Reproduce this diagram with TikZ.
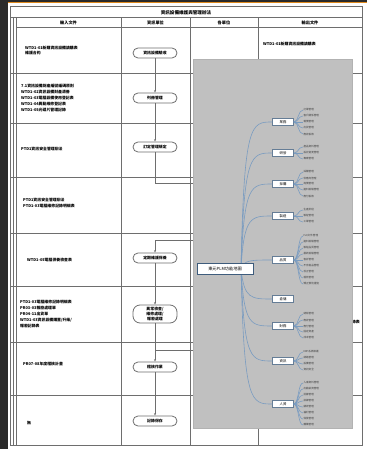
\documentclass[tikz,border=0pt]{standalone}
\usepackage{fontspec}
\setmainfont{Noto Sans CJK TC}
\usetikzlibrary{arrows.meta}
\definecolor{darkbg}{HTML}{2B2B2B}
\definecolor{topline}{HTML}{E08A1E}
\definecolor{tablecol}{HTML}{6E6E6E}
\definecolor{ovgray}{HTML}{C0C0C0}
\definecolor{mmblue}{HTML}{7A9CC0}
\definecolor{rootedge}{HTML}{3E5C7C}
\tikzset{
  tline/.style={draw=tablecol, line width=1bp},
  titletext/.style={font=\fontsize{4.6}{5.5}\selectfont\bfseries, inner sep=0},
  headtext/.style={font=\fontsize{4.2}{5}\selectfont\bfseries, inner sep=0},
  celltext/.style={font=\fontsize{3.9}{6}\selectfont\bfseries, align=left, anchor=west, inner sep=0},
  procbox/.style={draw=tablecol, fill=white, line width=0.8bp, rounded corners=5bp,
    minimum width=44bp, minimum height=10bp, inner sep=0, align=center,
    font=\fontsize{3.9}{5.2}\selectfont\bfseries},
  flow/.style={draw=tablecol, line width=0.8bp, -{Stealth[length=2.5bp,width=2bp]}},
  flowline/.style={draw=tablecol, line width=0.8bp},
  rootbox/.style={draw=rootedge, fill=white, line width=0.9bp, minimum width=56bp,
    minimum height=11bp, inner sep=0, font=\fontsize{4.2}{5}\selectfont},
  branchbox/.style={draw=rootedge!80, fill=white, line width=0.5bp, minimum width=21bp,
    minimum height=7bp, inner sep=0, font=\fontsize{3.4}{4}\selectfont},
  leaftext/.style={anchor=west, inner sep=0.3bp, font=\fontsize{2.6}{3}\selectfont, text=black!75},
  mmline/.style={draw=mmblue, line width=0.6bp}
}
\newcommand{\mmbranch}[5]{%
  \node[branchbox] (b#1) at (283,#2) {#3};
  \draw[mmline] (rootc) .. controls (244,#2) and (251,#2) .. (b#1.west);
  \foreach \t [count=\k] in {#5} {
    \pgfmathsetmacro{\ly}{#2+(\k-(#4+1)/2)*6}
    \node[leaftext] (l#1-\k) at (303,\ly) {\t};
    \draw[mmline] (b#1.east) .. controls +(5,0) and +(-5,0) .. (l#1-\k.west);
  }
}
\begin{document}
\begin{tikzpicture}[x=1bp,y=-1bp]
\useasboundingbox (0,0) rectangle (367,449);
\fill[white] (0,0) rectangle (367,449);
\fill[darkbg] (0,0) rectangle (8,449);
\fill[darkbg] (0,0) rectangle (367,2);
\fill[topline] (8,2) rectangle (367,3.4);

% table grid
\draw[tline] (10,7) rectangle (362,445);
\draw[tline] (13,18) -- (13,445);
\draw[tline] (10,18) -- (362,18);
\draw[tline] (16,28) -- (362,28);
\foreach \xx in {16,121,190,258} { \draw[tline] (\xx,18) -- (\xx,445); }
\foreach \yy in {74,124,178,233,286,342,395} { \draw[tline] (10,\yy) -- (362,\yy); }

% title and headers
\node[titletext] (title) at (186,12.5) {資訊設備維護與管理辦法};
\node[headtext] (h1) at (68.5,23) {輸入文件};
\node[headtext] (h2) at (155.5,23) {資訊單位};
\node[headtext] (h3) at (224,23) {各單位};
\node[headtext] (h4) at (310,23) {輸出文件};

% input documents
\node[celltext] (t1) at (25,50.5) {WTD1-01新購資訊設備請購表\\維護合約};
\node[celltext] (t2) at (21,98) {7.1資訊設備財產編號編碼原則\\WTD1-02資訊設備財產清冊\\WTD1-03電腦設備使用登記表\\WTD1-04異動維修登記表\\WTD1-05光碟片管理記錄};
\node[celltext] (t3) at (21,149) {PTD1資訊安全管理辦法};
\node[celltext] (t4) at (23,203) {PTD1資訊安全管理辦法\\PTD1-03電腦維修記錄明細表};
\node[celltext] (t5) at (27,260) {WTD1-05電腦保養檢查表};
\node[celltext] (t6) at (20,314) {PTD1-03電腦維修記錄明細表\\PR03-03報廢處理單\\PR04-11出貨單\\WTD1-03資訊設備購置/升級/\\報廢記錄表};
\node[celltext] (t7) at (23,364) {PR07-08年度稽核計畫};
\node[celltext] (t8) at (27,423) {無};

% output documents
\node[celltext] (u1) at (263,44) {WTD1-01新購資訊設備請購表};
\node[celltext, anchor=east] (u6) at (360,322) {WTD1-03資訊設備報廢記錄表};

% process boxes
\node[procbox] (o1) at (155,53) {資訊設備驗收};
\node[procbox] (o2) at (155,98) {列冊管理};
\node[procbox] (o3) at (155,147) {訂定管理規定};
\node[procbox] (o4) at (155,258) {定期維護保養};
\node[procbox, minimum height=18bp, rounded corners=7bp, font=\fontsize{3.9}{5.4}\selectfont\bfseries] (o5) at (155,314) {異常檢查/\\維修處理/\\報廢處理};
\node[procbox] (o6) at (155,367) {稽核作業};
\node[procbox] (o7) at (155,421) {記錄保存};

\coordinate (c1) at (193,183);
\coordinate (c2) at (193,240);
\coordinate (bb) at (155,350);
\coordinate (c3) at (193,350);
\draw[flow] (o1) -- (o2);
\draw[flow] (o2) -- (o3);
\draw[flowline] (o3.south) |- (c1);
\draw[flow] (c2) -| (o4.north);
\draw[flow] (o4) -- (o5);
\draw[flow] (o5) -- (o6);
\draw[flowline] (bb) -- (c3);
\draw[flow] (o6) -- (o7);

% overlay picture
\fill[ovgray] (193,59) rectangle (352,428);
\draw[draw=black!30, line width=0.4bp] (193,59) rectangle (352,428);

\coordinate (rootc) at (241,268.5);
\mmbranch{1}{122}{業務}{5}{訂單管理,客戶關係管理,報價管理,出貨管理,應收帳款}
\mmbranch{2}{153}{研發}{3}{產品資料管理,設計變更管理,專案管理}
\mmbranch{3}{184}{採購}{5}{採購管理,供應商管理,詢價管理,進料檢驗管理,應付帳款}
\mmbranch{4}{216}{製造}{3}{生產排程,製程管理,工單管理}
\mmbranch{5}{260}{品質}{9}{ISO文件管理,進料檢驗管理,製程品質管理,最終檢驗管理,客訴管理,不合格品管理,校正管理,稽核管理,矯正預防措施}
\node[branchbox] (b6) at (283,299) {倉儲};
\draw[mmline] (rootc) .. controls (244,299) and (251,299) .. (b6.west);
\mmbranch{7}{326}{財務}{5}{總帳管理,應收管理,應付管理,固定資產,成本管理}
\mmbranch{8}{361}{資訊}{4}{ERP系統維護,網路管理,設備管理,資訊安全}
\mmbranch{9}{404}{人資}{8}{人事資料管理,出勤薪資管理,招募管理,訓練管理,績效管理,福利管理,保險管理,離職管理}
\node[rootbox] (root) at (225,268.5) {東元PLM功能地圖};
\end{tikzpicture}
\end{document}
